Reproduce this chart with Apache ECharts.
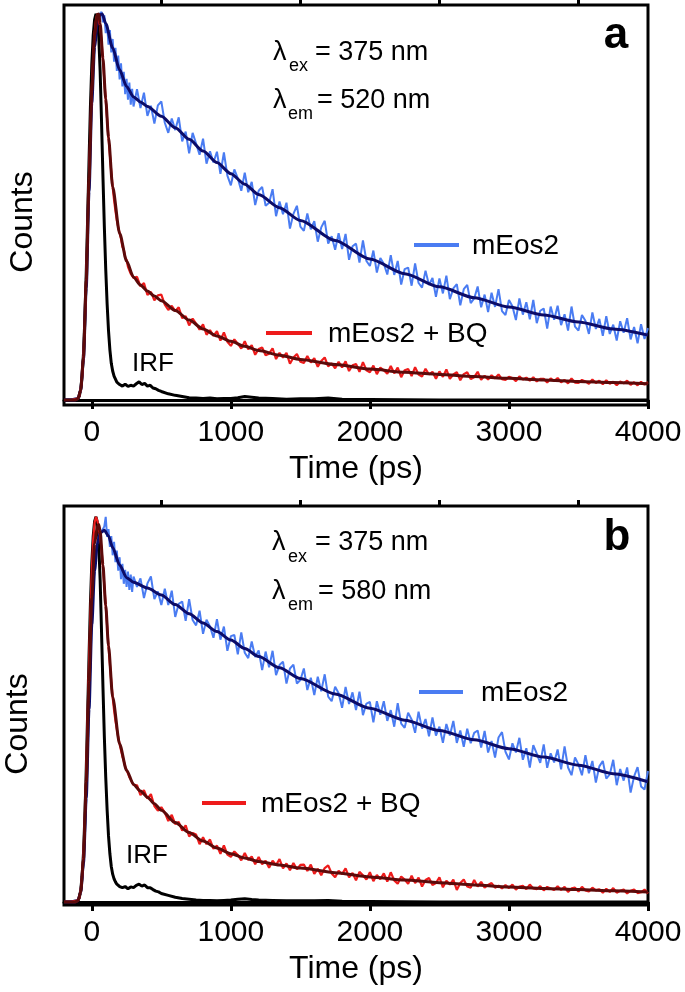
<!DOCTYPE html>
<html>
<head>
<meta charset="utf-8">
<script src="https://cdn.jsdelivr.net/npm/echarts@6.0.0/dist/echarts.min.js"></script>
<style>
html, body { margin: 0; padding: 0; background: #fff; }
#chart { width: 685px; height: 992px; }
</style>
</head>
<body>
<div id="chart"></div>
<script>
// time channels (ps) of the measured decays
var tData = [-200, -150, -100, -90, -80, -70, -60, -50, -40, -30, -20, -10, 0, 10, 20, 30, 40, 50, 60, 70,
  80, 90, 100, 110, 120, 130, 140, 150, 160, 170, 180, 190, 200, 210, 220, 230, 240, 250, 260, 270, 280, 290, 300,
  325, 350, 375, 400, 425, 450, 475, 500, 525, 550, 575, 600, 625, 650, 675, 700, 725, 750, 775, 800, 825, 850, 875, 900,
  925, 950, 975, 1000, 1025, 1050, 1075, 1100, 1125, 1150, 1175, 1200, 1225, 1250, 1275, 1300, 1325, 1350, 1375, 1400,
  1425, 1450, 1475, 1500, 1525, 1550, 1575, 1600, 1625, 1650, 1675, 1700, 1725, 1750, 1775, 1800, 1825, 1850, 1875, 1900,
  1925, 1950, 1975, 2000, 2025, 2050, 2075, 2100, 2125, 2150, 2175, 2200, 2225, 2250, 2275, 2300, 2325, 2350, 2375, 2400,
  2425, 2450, 2475, 2500, 2525, 2550, 2575, 2600, 2625, 2650, 2675, 2700, 2725, 2750, 2775, 2800, 2825, 2850, 2875, 2900,
  2925, 2950, 2975, 3000, 3025, 3050, 3075, 3100, 3125, 3150, 3175, 3200, 3225, 3250, 3275, 3300, 3325, 3350, 3375, 3400,
  3425, 3450, 3475, 3500, 3525, 3550, 3575, 3600, 3625, 3650, 3675, 3700, 3725, 3750, 3775, 3800, 3825, 3850, 3875, 3900,
  3925, 3950, 3975, 4000]

// panel a (em 520 nm), counts x1000
var blueA = [0, 1, 5, 12, 30, 62, 110, 190, 300, 420, 550, 670, 780, 860, 920, 960, 985, 997, 1000, 1005,
  978, 996, 950, 972, 920, 958, 900, 935, 876, 912, 852, 892, 830, 872, 812, 850, 792, 832, 778, 822, 765, 806, 760,
  805, 756, 796, 736, 762, 716, 763, 773, 718, 692, 729, 699, 732, 670, 695, 639, 692, 664, 635, 677,
  612, 644, 615, 643, 586, 641, 581, 556, 597, 574, 542, 589, 538, 565, 505, 542, 552, 503, 511, 546,
  476, 514, 481, 511, 444, 482, 503, 449, 438, 483, 442, 463, 410, 447, 464, 405, 424, 389, 432, 391,
  430, 363, 398, 405, 356, 413, 360, 347, 387, 330, 368, 353, 325, 375, 324, 360, 299, 339, 343, 296,
  354, 303, 291, 335, 298, 316, 267, 315, 276, 322, 261, 289, 300, 245, 287, 298, 251, 263, 294, 240,
  273, 228, 278, 241, 287, 230, 220, 259, 243, 207, 263, 221, 253, 209, 259, 199, 231, 237, 185, 242,
  208, 244, 194, 222, 180, 242, 190, 180, 220, 205, 171, 227, 184, 210, 166, 217, 171, 195, 154, 204,
  174, 212, 157, 189, 147, 196, 158, 186]
var redA = [0, 0, 4, 10, 28, 60, 115, 200, 320, 450, 580, 700, 810, 890, 950, 985, 1000, 995, 968, 930,
  880, 828, 778, 728, 680, 636, 590, 552, 518, 490, 465, 448, 432, 418, 397, 390, 369, 363, 345, 343, 327, 329, 316,
  319, 294, 303, 272, 280, 258, 271, 273, 247, 233, 244, 230, 240, 212, 217, 193, 211, 198, 182, 196,
  169, 181, 166, 178, 154, 175, 151, 140, 157, 146, 133, 152, 131, 142, 117, 132, 136, 116, 120, 134,
  106, 122, 110, 122, 94, 110, 119, 99, 96, 114, 97, 108, 86, 101, 110, 87, 95, 82, 99, 84,
  100, 75, 90, 93, 73, 98, 77, 72, 89, 67, 84, 77, 68, 88, 69, 84, 59, 77, 80, 62,
  85, 66, 61, 81, 66, 73, 55, 74, 60, 79, 55, 66, 72, 51, 67, 72, 54, 59, 73, 52,
  63, 53, 64, 56, 66, 54, 52, 60, 57, 49, 61, 53, 58, 50, 59, 48, 55, 55, 45, 56,
  49, 57, 46, 52, 43, 56, 45, 44, 52, 48, 42, 53, 44, 50, 41, 51, 42, 47, 38, 48,
  43, 50, 39, 46, 38, 47, 40, 46]

// panel b (em 580 nm)
var blueB = [0, 1, 5, 11, 28, 58, 100, 170, 270, 380, 500, 620, 730, 810, 870, 910, 935, 950, 958, 962,
  968, 975, 1000, 948, 968, 922, 950, 900, 935, 882, 912, 860, 895, 838, 878, 826, 862, 818, 858, 810, 850, 805, 845,
  818, 840, 789, 827, 845, 786, 806, 771, 813, 771, 808, 740, 774, 780, 730, 786, 732, 718, 756, 696,
  733, 715, 686, 734, 681, 715, 652, 690, 693, 643, 700, 647, 633, 676, 636, 653, 602, 650, 609, 652,
  589, 615, 624, 567, 606, 616, 567, 576, 606, 550, 582, 537, 585, 547, 591, 533, 521, 559, 542, 504,
  558, 514, 544, 498, 546, 485, 515, 519, 466, 521, 486, 521, 470, 498, 455, 516, 463, 452, 491, 474,
  439, 494, 450, 475, 430, 479, 432, 455, 413, 462, 432, 470, 413, 445, 403, 450, 412, 439, 445, 401,
  444, 388, 418, 375, 427, 441, 390, 370, 412, 388, 426, 369, 399, 349, 407, 385, 361, 409, 348, 386,
  362, 396, 344, 404, 349, 329, 375, 357, 329, 381, 334, 366, 310, 352, 366, 320, 331, 369, 303, 345,
  315, 349, 284, 326, 350, 300, 292, 340]
var redB = [0, 0, 4, 10, 30, 65, 125, 215, 340, 480, 620, 750, 860, 940, 985, 1000, 990, 972, 950, 915,
  870, 820, 770, 718, 665, 618, 572, 532, 498, 470, 448, 428, 410, 394, 378, 366, 352, 342, 334, 324, 318, 310, 304,
  303, 277, 290, 268, 280, 249, 237, 246, 232, 210, 226, 202, 208, 185, 199, 170, 179, 175, 150, 168,
  150, 162, 138, 146, 125, 147, 123, 117, 131, 122, 108, 127, 109, 118, 98, 117, 98, 107, 89, 107,
  96, 111, 87, 100, 82, 101, 85, 96, 97, 80, 97, 73, 86, 69, 88, 95, 74, 64, 81, 72,
  87, 64, 75, 56, 78, 69, 58, 77, 54, 70, 59, 74, 53, 77, 56, 47, 66, 58, 47, 68,
  49, 63, 40, 57, 62, 44, 49, 64, 38, 55, 45, 58, 31, 49, 58, 40, 37, 57, 40, 52,
  37, 44, 49, 37, 42, 35, 44, 36, 45, 32, 40, 42, 33, 45, 35, 33, 41, 30, 39, 35,
  31, 41, 31, 39, 26, 35, 37, 27, 39, 30, 27, 37, 30, 33, 24, 34, 26, 36, 24, 29,
  32, 22, 29, 32, 23, 25, 32, 22]

// instrument response
var tIrf = [-200, -150, -100, -90, -80, -70, -60, -50, -40, -30, -20, -10, 0, 10, 20, 30, 40, 50, 60, 70,
  80, 90, 100, 110, 120, 130, 140, 150, 160, 170, 180, 190, 200, 220, 240, 260, 280, 300, 320, 340,
  360, 380, 400, 420, 440, 460, 480, 500, 550, 600, 650, 700, 750, 800, 850, 900, 950, 1000, 1050, 1100,
  1150, 1200, 1300, 1400, 1500, 1600, 1700, 1800, 1900, 2000, 2500, 3000, 3500, 4000]
var irfA = [0, 0, 4, 10, 28, 62, 120, 210, 330, 470, 620, 760, 870, 945, 985, 1000, 990, 940, 850, 720,
  580, 450, 340, 250, 180, 130, 95, 75, 62, 54, 46, 44, 40, 36, 41, 35, 38, 36, 42, 47,
  40, 43, 36, 38, 31, 29, 25, 22, 16, 12, 9, 6, 5, 4, 5, 3, 4, 4, 6, 9,
  7, 5, 4, 2, 3, 3, 5, 2, 1, 1, 0, 0, 0, 0]
var irfB = [0, 0, 4, 11, 30, 66, 126, 220, 345, 490, 640, 775, 880, 950, 988, 1000, 985, 930, 835, 700,
  560, 430, 325, 240, 172, 125, 92, 72, 60, 52, 46, 43, 40, 37, 40, 34, 39, 37, 43, 46,
  41, 44, 37, 37, 32, 28, 26, 22, 17, 12, 9, 7, 5, 4, 4, 3, 4, 5, 7, 8,
  6, 5, 4, 3, 3, 3, 4, 2, 1, 1, 0, 0, 0, 0]

// fitted curves
var tFitRed = [-200, -120, -100, -80, -60, -40, -20, 0, 20, 40, 50, 60, 80, 100, 120, 150, 200, 250, 300,
  350, 400, 450, 500, 600, 700, 800, 900, 1000, 1100, 1200, 1350, 1500, 1750, 2000, 2250, 2500, 2750,
  3000, 3250, 3500, 3750, 4000]
var fitRedA = [0, 0, 3, 25, 110, 310, 570, 800, 945, 998, 1000, 975, 885, 780, 680, 552, 432, 360, 318,
  298, 282, 269, 257, 232, 207, 184, 166, 152, 139, 128, 116, 105, 92, 80, 72, 66, 61,
  56, 52, 48, 45, 42]
var fitRedB = [0, 0, 3, 25, 110, 310, 570, 790, 930, 975, 980, 962, 875, 770, 665, 532, 410, 342, 305,
  288, 272, 255, 238, 206, 180, 158, 140, 125, 114, 105, 96, 88, 76, 65, 57, 50, 44,
  39, 35, 32, 29, 26]
var tFitBlueA = [-200, -120, -100, -80, -60, -40, -20, 0, 20, 40, 60, 75, 100, 150, 200, 250, 300,
  350, 400, 500, 600, 700, 800, 900, 1000, 1100, 1200, 1350, 1500, 1750, 2000, 2250, 2500, 2750,
  3000, 3250, 3500, 3750, 4000]
var fitBlueA = [0, 0, 3, 25, 105, 290, 540, 770, 915, 978, 998, 1000, 975, 912, 855, 812, 785,
  772, 760, 735, 705, 675, 645, 615, 586, 559, 532, 498, 465, 413, 365, 327, 293, 265,
  241, 220, 202, 184, 168]
var tFitBlueB = [-200, -120, -100, -80, -60, -40, -20, 0, 20, 40, 60, 90, 120, 150, 200, 250, 300,
  400, 500, 600, 700, 800, 900, 1000, 1100, 1200, 1350, 1500, 1750, 2000, 2250, 2500, 2750,
  3000, 3250, 3500, 3750, 4000]
var fitBlueB = [0, 0, 3, 25, 100, 270, 500, 720, 860, 930, 958, 965, 950, 920, 875, 842, 830,
  815, 797, 772, 748, 724, 702, 680, 658, 637, 608, 580, 540, 503, 472, 445, 421,
  398, 376, 355, 333, 312]

var majorTicks = [0, 1000, 2000, 3000, 4000]
var minorTicks = [500, 1500, 2500, 3500]

var FONT = "'Liberation Sans', Arial, sans-serif"
var BLUE = '#4a7cf2'
var RED = '#ee1b1b'
var NAVY = '#0c0c68'
var MAROON = '#5c0a0a'

function pairs (t, v) {
  return t.map(function (x, i) { return [x, v[i]] })
}

function mainX (grid) {
  return {
    type: 'value', gridIndex: grid, min: -200, max: 4000,
    axisLine: { lineStyle: { color: '#000', width: 3 } },
    axisTick: { customValues: majorTicks, length: 9, lineStyle: { color: '#000', width: 3 } },
    axisLabel: {
      customValues: majorTicks, color: '#000', fontSize: 30, fontFamily: FONT, margin: 13,
      formatter: function (v) { return String(v) }
    },
    splitLine: { show: false },
    name: 'Time (ps)', nameLocation: 'middle', nameGap: 48,
    nameTextStyle: { color: '#000', fontSize: 32, fontFamily: FONT }
  }
}
function minorX (grid) {
  return {
    type: 'value', gridIndex: grid, min: -200, max: 4000,
    axisLine: { show: false },
    axisTick: { customValues: minorTicks, length: 6, lineStyle: { color: '#000', width: 3 } },
    axisLabel: { show: false },
    splitLine: { show: false }
  }
}
function yAx (grid, lo, hi) {
  return {
    type: 'value', gridIndex: grid, min: lo, max: hi,
    axisLine: { show: false }, axisTick: { show: false }, axisLabel: { show: false },
    splitLine: { show: false }
  }
}
function line (axis, data, color, width, smooth) {
  return {
    type: 'line', xAxisIndex: axis * 2, yAxisIndex: axis, data: data,
    showSymbol: false, smooth: smooth ? 0.25 : false, smoothMonotone: 'x',
    lineStyle: { color: color, width: width }, silent: true
  }
}
function txt (x, y, s, size, extra) {
  var style = { text: s, fontSize: size, fontFamily: FONT, fill: '#000',
    align: 'left', verticalAlign: 'middle', textAlign: 'left', textVerticalAlign: 'middle' }
  if (extra) Object.assign(style, extra)
  return { type: 'text', x: x, y: y, style: style }
}
function seg (x1, x2, y, color) {
  return { type: 'line', shape: { x1: x1, y1: y, x2: x2, y2: y }, style: { stroke: color, lineWidth: 4 } }
}
function counts (x, y) {
  var el = txt(x, y, 'Counts', 32, { align: 'center', textAlign: 'center' })
  el.rotation = Math.PI / 2
  return el
}

var myChart = echarts.init(document.getElementById('chart'), null, { renderer: 'canvas' })
myChart.setOption({
  animation: false,
  backgroundColor: '#fff',
  grid: [
    { left: 64, top: 5, width: 584, height: 400, show: true, borderColor: '#000', borderWidth: 3 },
    { left: 64, top: 506, width: 584, height: 399, show: true, borderColor: '#000', borderWidth: 3 }
  ],
  xAxis: [mainX(0), minorX(0), mainX(1), minorX(1)],
  yAxis: [yAx(0, -13, 1023), yAx(1, -8, 1028)],
  series: [
    line(0, pairs(tIrf, irfA), '#000', 3),
    line(0, pairs(tData, blueA), BLUE, 2),
    line(0, pairs(tFitBlueA, fitBlueA), NAVY, 3, true),
    line(0, pairs(tData, redA), RED, 2.2),
    line(0, pairs(tFitRed, fitRedA), MAROON, 3, true),
    line(1, pairs(tIrf, irfB), '#000', 3),
    line(1, pairs(tData, blueB), BLUE, 2),
    line(1, pairs(tFitBlueB, fitBlueB), NAVY, 3, true),
    line(1, pairs(tData, redB), RED, 2.2),
    line(1, pairs(tFitRed, fitRedB), MAROON, 3, true)
  ],
  graphic: [
    counts(23, 222), counts(18, 724),
    // panel a annotations
    txt(616, 36, 'a', 44, { fontWeight: 'bold', align: 'center', textAlign: 'center' }),
    txt(273, 53, 'λ', 27), txt(289, 66, 'ex', 18), txt(315, 53, '= 375 nm', 27),
    txt(273, 101, 'λ', 27), txt(288, 114, 'em', 18), txt(317, 101, '= 520 nm', 27),
    seg(414, 459, 245, BLUE), txt(472, 246, 'mEos2', 28),
    seg(266, 312, 333, RED), txt(328, 334, 'mEos2 + BQ', 28),
    txt(132, 364, 'IRF', 26),
    // panel b annotations
    txt(617, 538, 'b', 44, { fontWeight: 'bold', align: 'center', textAlign: 'center' }),
    txt(272, 543, 'λ', 27), txt(288, 557, 'ex', 18), txt(315, 543, '= 375 nm', 27),
    txt(272, 592, 'λ', 27), txt(288, 605, 'em', 18), txt(318, 592, '= 580 nm', 27),
    seg(419, 463, 692, BLUE), txt(481, 693, 'mEos2', 28),
    seg(202, 246, 803, RED), txt(261, 804, 'mEos2 + BQ', 28),
    txt(126, 856, 'IRF', 26)
  ]
})
</script>
</body>
</html>
